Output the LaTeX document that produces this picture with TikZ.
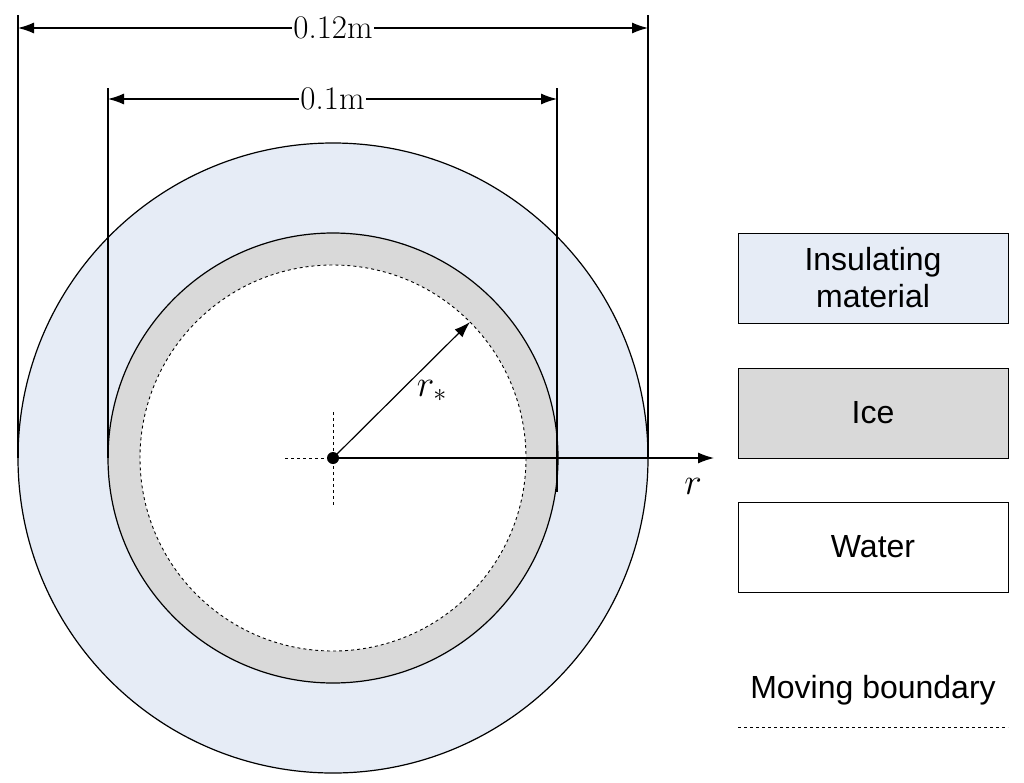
\documentclass[tikz,border=0pt]{standalone}
\usepackage{fontspec}
\newfontfamily\lsans{Liberation Sans}
\usetikzlibrary{arrows.meta}
\begin{document}
\begin{tikzpicture}[x=1pt,y=-1pt,
 dim/.style={{Latex[length=16,width=11]}-{Latex[length=16,width=11]},line width=1.2},
 arr/.style={-{Latex[length=16,width=11]},line width=1.2},
 leg/.style={draw,line width=1,minimum width=270,minimum height=90,font=\lsans\fontsize{32}{37}\selectfont,align=center}]
\useasboundingbox (0,0) rectangle (1024,782);
\definecolor{ins}{RGB}{230,236,246}
\definecolor{ice}{RGB}{217,217,217}
\coordinate (c) at (333,458);
\draw[fill=ins,line width=1.2] (c) circle (315);
\draw[fill=ice,line width=1.2] (c) circle (225);
\draw[fill=white,dashed,line width=0.9] (c) circle (193);
\draw[dashed,line width=0.9] (285,458) -- (333,458);
\draw[dashed,line width=0.9] (333,412) -- (333,505);
% dimension lines
\draw[line width=1.2] (18,15) -- (18,458);
\draw[line width=1.2] (648,15) -- (648,458);
\draw[line width=1.2] (108,88) -- (108,458);
\draw[line width=1.2] (557,88) -- (557,492);
\coordinate (a1) at (18,28); \coordinate (a2) at (648,28);
\coordinate (b1) at (108,99); \coordinate (b2) at (557,99);
\draw[dim] (a1) -- node[fill=white,inner sep=1,font=\fontsize{33}{38}\selectfont]{0.12m} (a2);
\draw[dim] (b1) -- node[fill=white,inner sep=1,font=\fontsize{33}{38}\selectfont]{0.1m} (b2);
\coordinate (re) at (714,458);
\draw[arr] (c) -- (re);
\coordinate (rs) at (470,322);
\draw[arr] (c) -- (rs);
\fill (c) circle (6);
\node[scale=1.5,font=\fontsize{24}{28}\selectfont] (rl) at (693,486) {$r$};
\node[scale=1.5,font=\fontsize{24}{28}\selectfont] (rsl) at (432,391) {$r_*$};
% legend
\node[leg,fill=ins] (l1) at (873,278) {Insulating\\material};
\node[leg,fill=ice] (l2) at (873,413) {Ice};
\node[leg,fill=white] (l3) at (873,547) {Water};
\node[font=\lsans\fontsize{32}{37}\selectfont] (l4) at (873,690) {Moving boundary};
\coordinate (d1) at (738,727); \coordinate (d2) at (1008,727);
\draw[dashed,line width=0.7] (d1) -- (d2);
\end{tikzpicture}
\end{document}
